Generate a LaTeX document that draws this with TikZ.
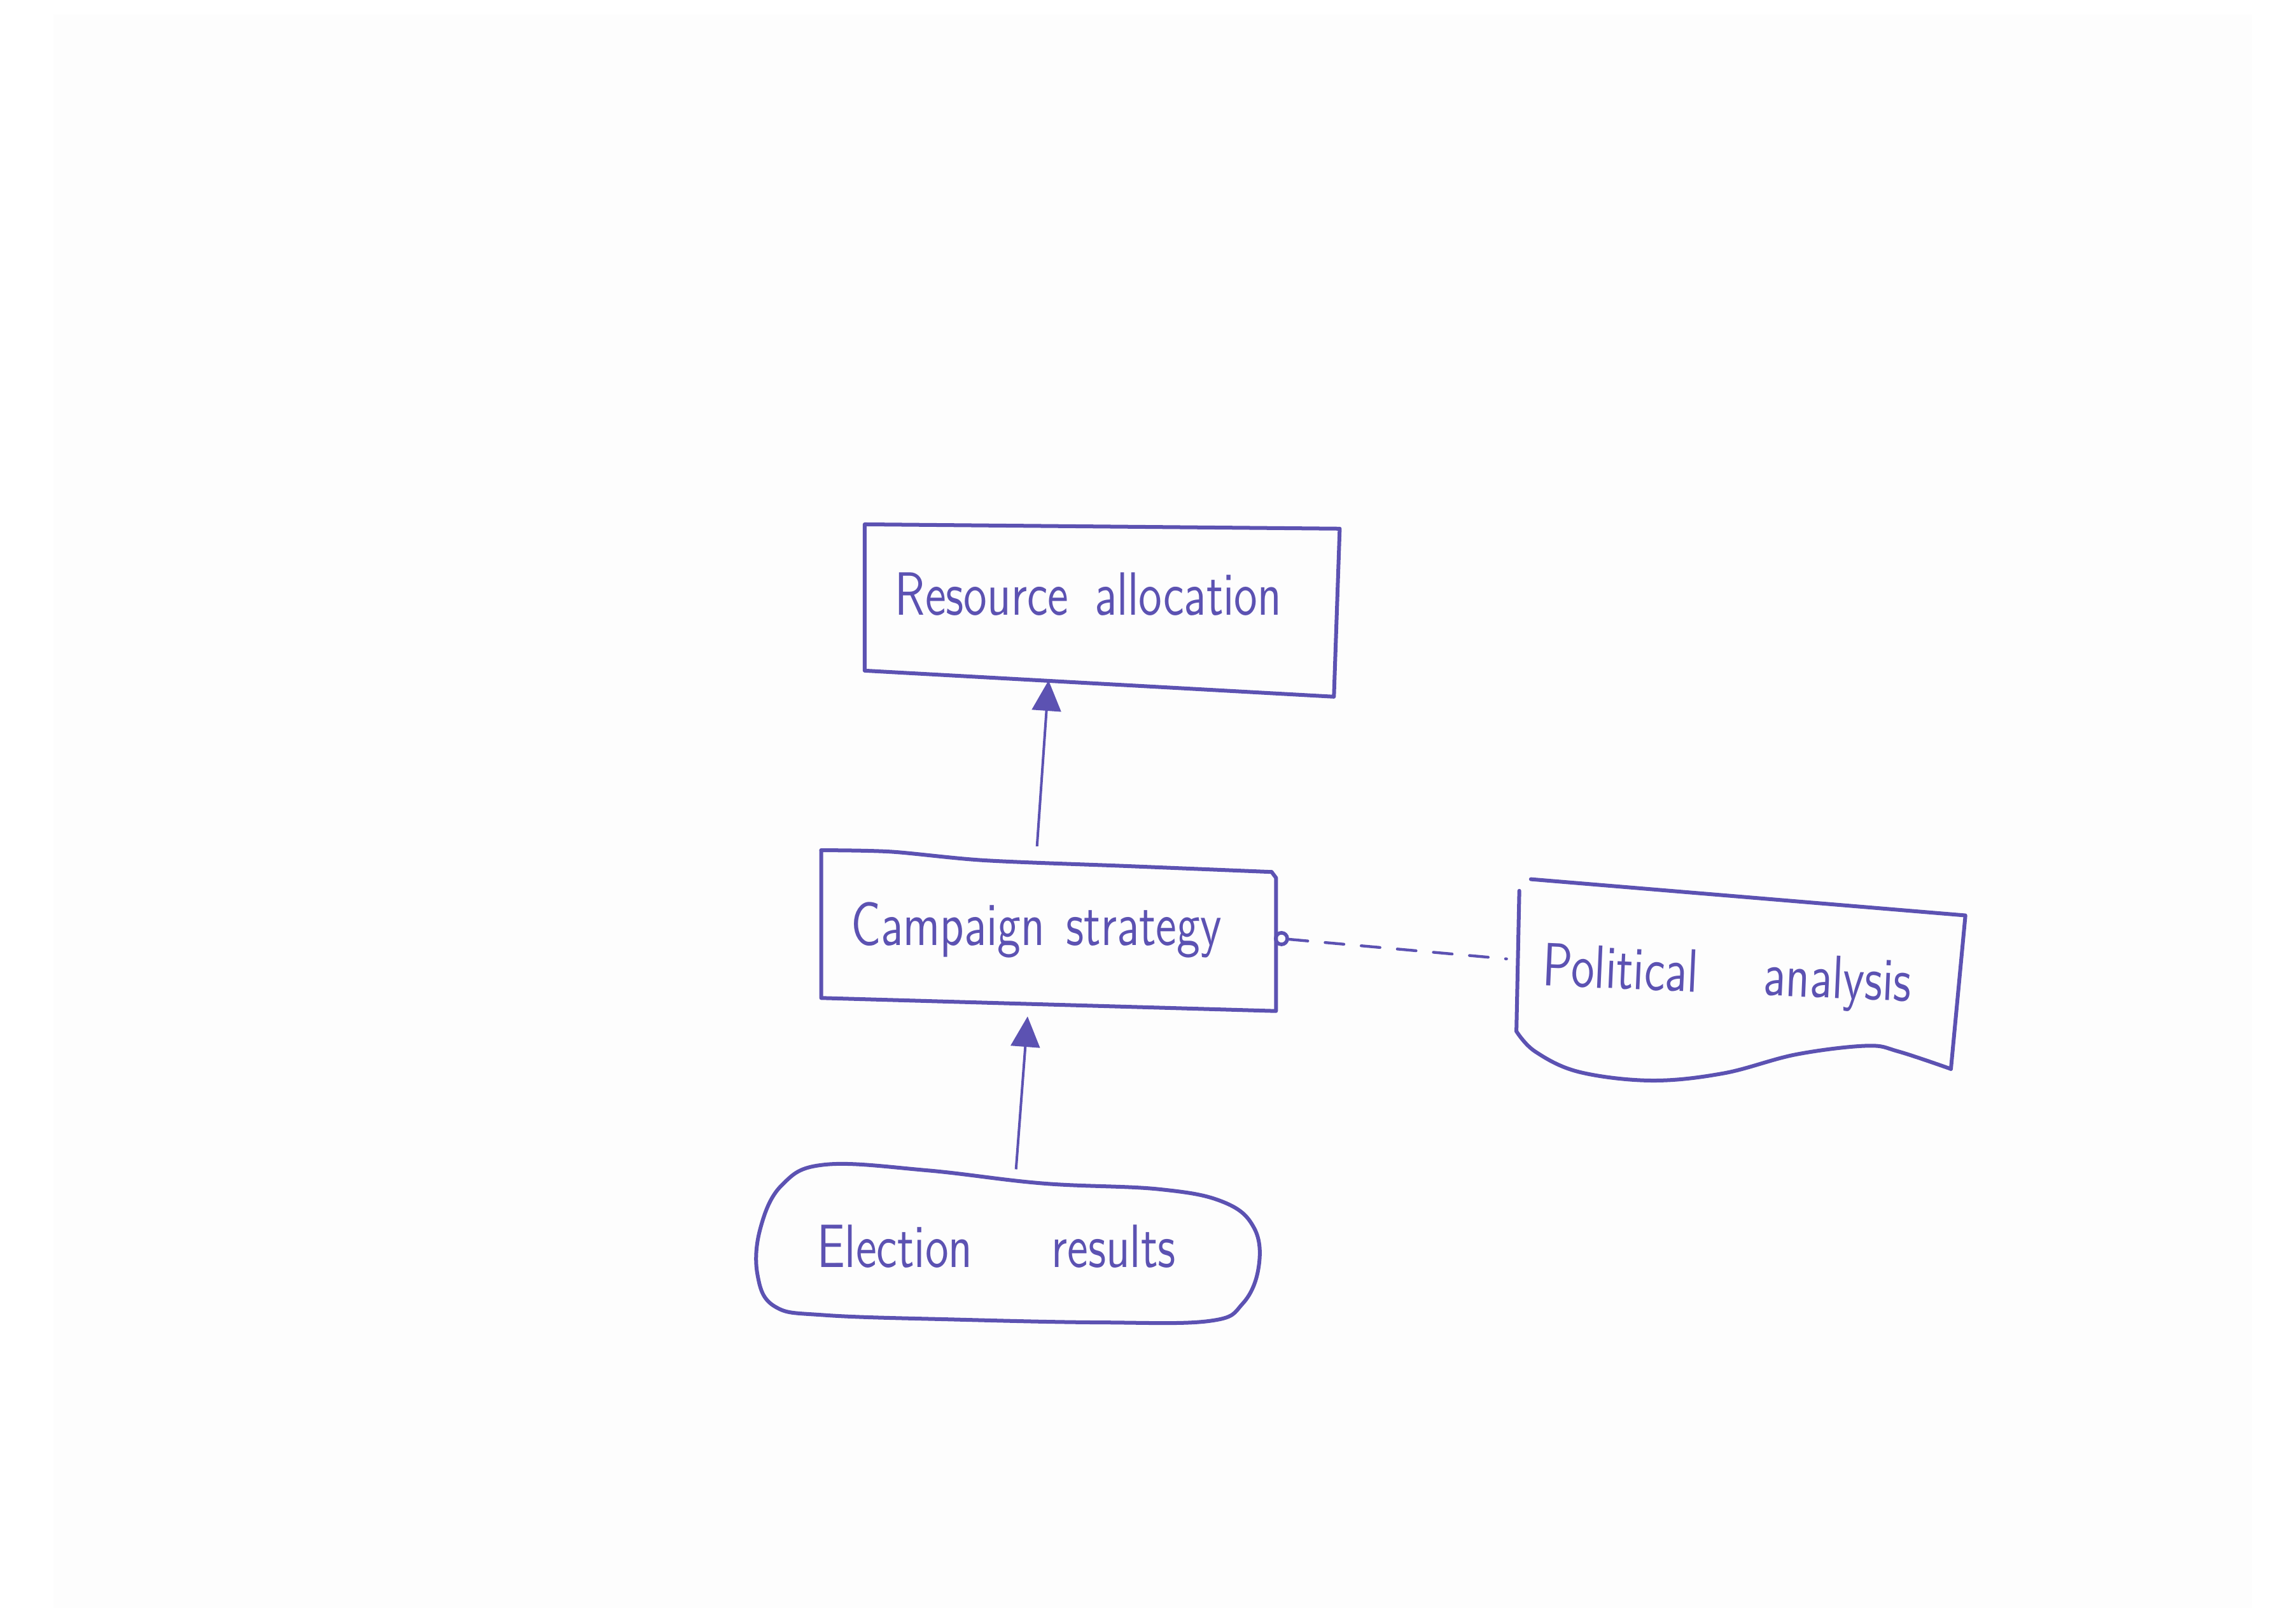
\documentclass[tikz,border=0pt]{standalone}
\usepackage{graphicx}
\usetikzlibrary{arrows.meta}
\definecolor{ink}{RGB}{92,82,178}
\definecolor{paper}{RGB}{253,253,253}
\newcommand{\handtext}[1]{\scalebox{0.78}[1]{#1}}
\tikzset{
  boxnode/.style={draw=none, inner sep=0pt, rectangle},
  lbl/.style={inner sep=0pt, text=ink, font=\sffamily\fontsize{12}{14}\selectfont},
  outline/.style={draw=ink, line width=0.75pt, line join=round, line cap=round},
  tri/.style={draw=ink, line width=0.5pt, -{Triangle[length=0.21cm,width=0.2cm]}},
  assoc/.style={draw=ink, line width=0.55pt, line cap=round, dash pattern=on 0.13cm off 0.12cm},
}
\begin{document}
\begin{tikzpicture}[x=0.01cm,y=-0.01cm]
\useasboundingbox (0,0) rectangle (1568,1121);
\fill[white] (0,0) rectangle (1568,1121);
\fill[paper] (37,10) rectangle (1555,1110);

% nodes
\node[boxnode, minimum width=3.29cm, minimum height=1.08cm,
  label={[lbl, xshift=-0.09cm, yshift=0.06cm]center:\handtext{Resource\hspace{0.23cm}allocation}}] (ra) at (760.5,416) {};
\node[boxnode, minimum width=3.14cm, minimum height=1.00cm,
  label={[lbl, xshift=-0.085cm, yshift=0.02cm]center:\handtext{Campaign\hspace{0.19cm}strategy}}] (cs) at (724,644) {};
\node[boxnode, minimum width=3.10cm, minimum height=1.10cm,
  label={[lbl, rotate=-2.5, xshift=-0.095cm, yshift=-0.01cm]center:\handtext{Political\hspace{0.58cm}analysis}}] (pa) at (1202,675) {};
\node[boxnode, minimum width=3.50cm, minimum height=1.00cm,
  label={[lbl, xshift=-0.09cm, yshift=0.015cm]center:\handtext{Election\hspace{0.7cm}results}}] (er) at (697,862) {};

% hand-drawn outlines
\draw[outline] (597,362) -- (925,365) -- (921,481) -- (597,463) -- cycle;
\draw[outline] plot[smooth, tension=0.5] coordinates {(567,587) (615,588) (680,594) (780,598) (878,602)};
\draw[outline] (878,602) -- (881,606) -- (881,698) -- (567,689) -- (567,587);
\draw[outline] (1057,607) -- (1357,632) -- (1347,738);
\draw[outline] plot[smooth, tension=0.6] coordinates {(1347,738) (1311,726) (1289,722) (1240,728) (1190,741) (1140,746) (1090,740) (1060,726) (1047,712)};
\draw[outline] (1047,712) -- (1049,615);
\draw[outline] plot[smooth cycle, tension=0.65] coordinates {(570,804) (640,808) (720,817) (800,821) (845,830) (866,848) (869,875) (858,900) (835,912) (760,913) (660,911) (570,908) (535,902) (523,880) (525,848) (540,818)};

% connectors
\node[circle, draw=ink, line width=0.7pt, inner sep=0pt, minimum size=0.08cm] (knob) at ([xshift=0.03cm,yshift=-0.04cm]cs.east) {};
\draw[assoc] (knob) -- ([xshift=-0.06cm,yshift=0.13cm]pa.west);
\draw[tri] ([xshift=-0.08cm,yshift=0.09cm]cs.north) -- ([xshift=-0.365cm,yshift=0.01cm]ra.south);
\draw[tri] ([xshift=0.045cm,yshift=0.04cm]er.north) -- ([xshift=-0.145cm,yshift=-0.07cm]cs.south);
\end{tikzpicture}
\end{document}
